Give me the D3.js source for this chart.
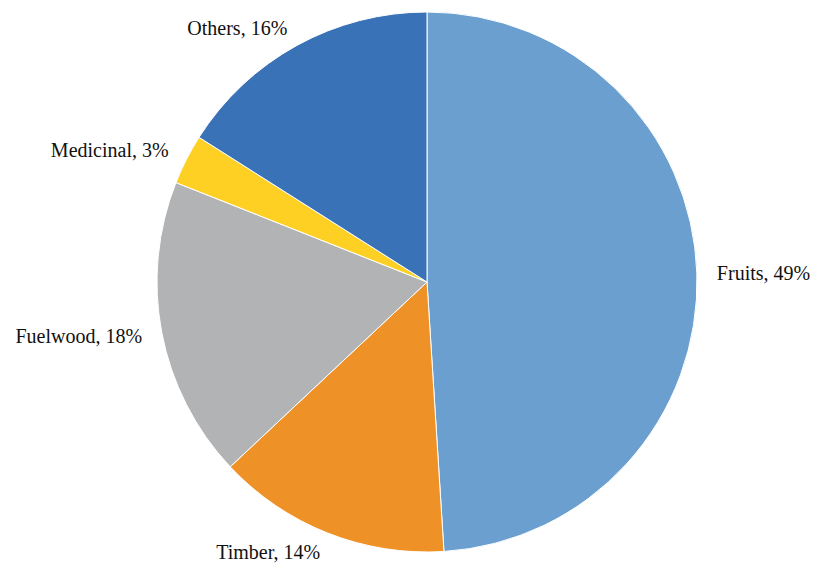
<!DOCTYPE html>
<html>
<head>
<script src="https://cdnjs.cloudflare.com/ajax/libs/d3/7.8.5/d3.min.js"></script>
<style>
  body { margin: 0; background: #fff; }
  text { font-family: 'Liberation Serif', 'Times New Roman', serif; font-size: 20px; fill: #111; }
</style>
</head>
<body>
<svg id="chart" width="826" height="570"></svg>
<script>
const categories = ['Fruits', 'Timber', 'Fuelwood', 'Medicinal', 'Others']
const shares = [49, 14, 18, 3, 16]
const colors = ['#6a9fcf', '#ee9127', '#b2b3b5', '#fdd023', '#3a72b8']

const cx = 427, cy = 282, r = 270
const svg = d3.select('#chart')
const g = svg.append('g').attr('transform', `translate(${cx},${cy})`)

const pie = d3.pie().sort(null).value(d => d.v)
const arcs = pie(categories.map((c, i) => ({ c: c, v: shares[i], col: colors[i] })))
const arc = d3.arc().innerRadius(0).outerRadius(r)
const labelArc = d3.arc().innerRadius(290).outerRadius(290)

g.selectAll('path').data(arcs).enter().append('path')
  .attr('d', arc)
  .attr('fill', d => d.data.col)
  .attr('stroke', '#fff')
  .attr('stroke-width', 1)

g.selectAll('text').data(arcs).enter().append('text')
  .attr('x', d => labelArc.centroid(d)[0])
  .attr('y', d => labelArc.centroid(d)[1] + 7)
  .attr('text-anchor', d => (d.startAngle + d.endAngle) / 2 < Math.PI ? 'start' : 'end')
  .text(d => `${d.data.c}, ${d.data.v}%`)
</script>
</body>
</html>
